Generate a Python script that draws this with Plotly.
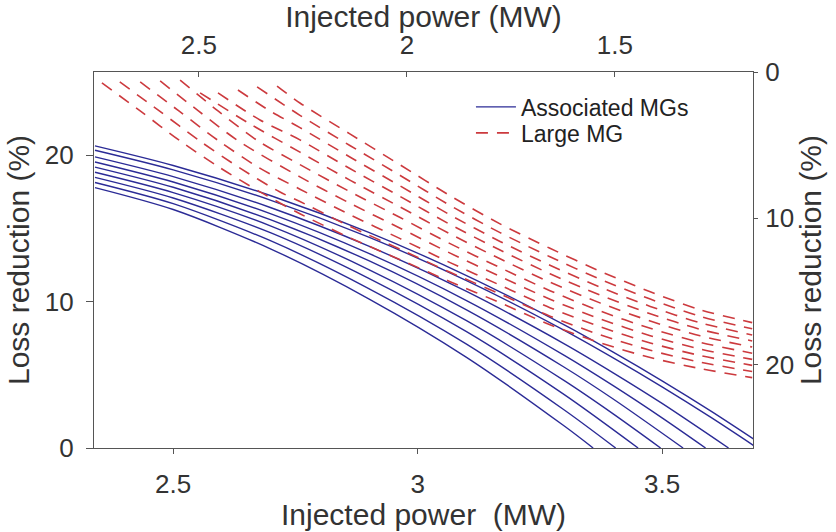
import plotly.graph_objects as go

# ---------------- data ----------------
# Associated MGs: bottom x-axis (Injected power, MW) / left y-axis (Loss reduction, %)
ASSOC_X = [
    [2.34, 2.5, 2.7, 2.9, 3.1, 3.3, 3.359],
    [2.34, 2.5, 2.7, 2.9, 3.1, 3.3, 3.405],
    [2.34, 2.5, 2.7, 2.9, 3.1, 3.3, 3.451],
    [2.34, 2.5, 2.7, 2.9, 3.1, 3.3, 3.4, 3.497],
    [2.34, 2.5, 2.7, 2.9, 3.1, 3.3, 3.4, 3.543],
    [2.34, 2.5, 2.7, 2.9, 3.1, 3.3, 3.4, 3.5, 3.589],
    [2.34, 2.5, 2.7, 2.9, 3.1, 3.3, 3.4, 3.5, 3.636],
    [2.34, 2.5, 2.7, 2.9, 3.1, 3.3, 3.4, 3.5, 3.6, 3.695],
    [2.34, 2.5, 2.7, 2.9, 3.1, 3.3, 3.4, 3.5, 3.6, 3.715],
]
ASSOC_Y = [
    [17.8, 16.3, 13.6, 10.2, 6.2, 1.5, 0],
    [18.15, 16.7, 14.15, 10.9, 7.1, 2.6, 0],
    [18.5, 17.09, 14.7, 11.6, 7.95, 3.65, 0],
    [18.85, 17.46, 15.17, 12.2, 8.7, 4.6, 2.33, 0],
    [19.2, 17.82, 15.59, 12.80, 9.44, 5.52, 3.35, 0],
    [19.55, 18.18, 16.00, 13.30, 10.08, 6.33, 4.26, 2.06, 0],
    [19.9, 18.55, 16.42, 13.80, 10.70, 7.12, 5.14, 3.05, 0],
    [20.35, 19.01, 16.93, 14.41, 11.44, 8.04, 6.16, 4.18, 2.09, 0],
    [20.65, 19.31, 17.24, 14.74, 11.79, 8.41, 6.55, 4.59, 2.52, 0],
]

# Large MG: top x-axis (Injected power, MW, reversed) / right y-axis (Loss reduction, %, reversed)
LARGE_X = [
    [2.733, 2.641, 2.545, 2.449, 2.353, 2.257, 2.137, 2.016, 1.896, 1.776, 1.656, 1.536, 1.415, 1.295, 1.170],
    [2.690, 2.595, 2.498, 2.402, 2.306, 2.257, 2.137, 2.016, 1.896, 1.776, 1.656, 1.536, 1.415, 1.295, 1.170],
    [2.641, 2.548, 2.452, 2.355, 2.257, 2.137, 2.016, 1.896, 1.776, 1.656, 1.536, 1.415, 1.295, 1.170],
    [2.593, 2.501, 2.405, 2.257, 2.137, 2.016, 1.896, 1.776, 1.656, 1.536, 1.415, 1.295, 1.170],
    [2.545, 2.454, 2.358, 2.257, 2.137, 2.016, 1.896, 1.776, 1.656, 1.536, 1.415, 1.295, 1.170],
    [2.497, 2.377, 2.257, 2.137, 2.016, 1.896, 1.776, 1.656, 1.536, 1.415, 1.295, 1.170],
    [2.454, 2.353, 2.257, 2.137, 2.016, 1.896, 1.776, 1.656, 1.536, 1.415, 1.295, 1.170],
    [2.406, 2.329, 2.257, 2.137, 2.016, 1.896, 1.776, 1.656, 1.536, 1.415, 1.295, 1.170],
    [2.360, 2.257, 2.137, 2.016, 1.896, 1.776, 1.656, 1.536, 1.415, 1.295, 1.170],
    [2.312, 2.257, 2.137, 2.016, 1.896, 1.776, 1.656, 1.536, 1.415, 1.295, 1.170],
]
LARGE_Y = [
    [0.75, 2.66, 4.71, 6.55, 8.19, 9.69, 11.33, 12.83, 14.33, 15.77, 17.27, 18.50, 19.52, 20.27, 20.89],
    [0.68, 2.66, 4.71, 6.55, 8.19, 8.85, 10.55, 12.12, 13.69, 15.17, 16.69, 17.96, 19.02, 19.83, 20.47],
    [0.68, 2.66, 4.71, 6.55, 8.01, 9.75, 11.39, 13.03, 14.57, 16.11, 17.41, 18.52, 19.38, 20.05],
    [0.61, 2.66, 4.71, 7.17, 8.97, 10.68, 12.38, 13.97, 15.53, 16.87, 18.02, 18.94, 19.64],
    [0.55, 2.66, 4.71, 6.33, 8.18, 9.95, 11.73, 13.37, 14.95, 16.33, 17.52, 18.48, 19.22],
    [1.43, 3.55, 5.48, 7.39, 9.23, 11.07, 12.77, 14.37, 15.78, 17.02, 18.03, 18.80],
    [1.43, 3.28, 4.64, 6.60, 8.51, 10.42, 12.17, 13.79, 15.24, 16.52, 17.59, 18.38],
    [1.23, 2.66, 3.80, 5.81, 7.79, 9.77, 11.58, 13.21, 14.70, 16.02, 17.14, 17.97],
    [1.02, 2.96, 5.02, 7.07, 9.12, 10.98, 12.63, 14.16, 15.52, 16.70, 17.55],
    [0.96, 2.12, 4.23, 6.35, 8.46, 10.38, 12.05, 13.61, 15.02, 16.25, 17.13],
]

BOTTOM_TICKS = [2.5, 3, 3.5]
BOTTOM_TICKTEXT = ["2.5", "3", "3.5"]
TOP_TICKS = [2.5, 2, 1.5]
TOP_TICKTEXT = ["2.5", "2", "1.5"]
LEFT_TICKS = [0, 10, 20]
RIGHT_TICKS = [0, 10, 20]

SERIES_NAMES = ["Associated MGs", "Large MG"]
BOTTOM_TITLE = "Injected power\u00a0 (MW)"
TOP_TITLE = "Injected power (MW)"
Y_TITLE = "Loss reduction (%)"

# ---------------- figure ----------------
BLUE = "#2b2b96"
RED = "#cc3a3e"
FONT = "Liberation Sans, Arial, sans-serif"
TXT = "#333333"
AX = "#555555"

fig = go.Figure()

for i, (xs, ys) in enumerate(zip(ASSOC_X, ASSOC_Y)):
    fig.add_trace(go.Scatter(
        x=xs, y=ys, mode="lines", xaxis="x", yaxis="y",
        line=dict(color=BLUE, width=1.4, shape="spline", smoothing=0.8),
        name=SERIES_NAMES[0], showlegend=(i == 0), legend="legend",
        hoverinfo="skip",
    ))

for i, (xs, ys) in enumerate(zip(LARGE_X, LARGE_Y)):
    fig.add_trace(go.Scatter(
        x=xs, y=ys, mode="lines", xaxis="x2", yaxis="y2",
        line=dict(color=RED, width=1.6, dash="12px,9px", shape="spline", smoothing=0.8),
        name=SERIES_NAMES[1], showlegend=(i == 0), legend="legend2",
        hoverinfo="skip",
    ))

tickfont = dict(family=FONT, size=26, color=TXT)
titlefont = dict(family=FONT, size=30, color=TXT)
legfont = dict(family=FONT, size=23, color="#222222")

fig.update_layout(
    width=836, height=532,
    margin=dict(l=94, r=83, t=72, b=84, autoexpand=False),
    paper_bgcolor="white", plot_bgcolor="white",
    font=dict(family=FONT, color=TXT),
    xaxis=dict(
        range=[2.338, 3.686], tickvals=BOTTOM_TICKS, ticktext=BOTTOM_TICKTEXT,
        side="bottom", showline=True, linecolor=AX, linewidth=1.3,
        ticks="outside", ticklen=5, tickcolor=AX, tickwidth=1.3,
        showgrid=False, zeroline=False, tickfont=tickfont,
        ticklabelstandoff=8,
        automargin=False,
    ),
    yaxis=dict(
        range=[0, 25.7], tickvals=LEFT_TICKS,
        showline=True, linecolor=AX, linewidth=1.3,
        ticks="outside", ticklen=7, tickcolor=AX, tickwidth=1.3,
        showgrid=False, zeroline=False, tickfont=tickfont,
        ticklabelstandoff=7,
        title=dict(text=Y_TITLE, font=titlefont, standoff=6),
        automargin=False,
    ),
    xaxis2=dict(
        range=[2.752, 1.168], tickvals=TOP_TICKS, ticktext=TOP_TICKTEXT,
        overlaying="x", side="top", anchor="y",
        showline=True, linecolor=AX, linewidth=1.3,
        ticks="inside", ticklen=5, tickcolor=AX, tickwidth=1.3,
        showgrid=False, zeroline=False, tickfont=tickfont,
        ticklabelstandoff=6,
        title=dict(text=TOP_TITLE, font=titlefont, standoff=3),
        automargin=False,
    ),
    yaxis2=dict(
        range=[25.7, 0], tickvals=RIGHT_TICKS,
        overlaying="y", side="right", anchor="x",
        showline=True, linecolor=AX, linewidth=1.3,
        ticks="outside", ticklen=4, tickcolor=AX, tickwidth=1.3,
        showgrid=False, zeroline=False, tickfont=tickfont,
        ticklabelstandoff=2,
        title=dict(text=Y_TITLE, font=titlefont, standoff=2),
        automargin=False,
    ),
    legend=dict(
        x=0.572, y=0.907, xanchor="left", yanchor="middle",
        bgcolor="rgba(0,0,0,0)", borderwidth=0, font=legfont,
        itemwidth=40,
    ),
    legend2=dict(
        x=0.572, y=0.838, xanchor="left", yanchor="middle",
        bgcolor="rgba(0,0,0,0)", borderwidth=0, font=legfont,
        itemwidth=40,
    ),
    annotations=[dict(
        text=BOTTOM_TITLE, xref="paper", yref="paper",
        x=0.5, y=-0.176, xanchor="center", yanchor="middle",
        showarrow=False, font=titlefont,
    )],
)

fig.write_html("out.html")
